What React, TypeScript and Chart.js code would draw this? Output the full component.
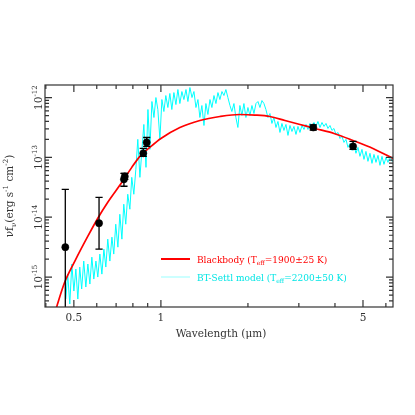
import React, { useEffect, useRef } from "react";
import { Chart, registerables } from "chart.js";

Chart.register(...registerables);

// ---------- data (wavelength in micron, nu*f_nu in erg s^-1 cm^-2) ----------
const photWavelength = [0.467, 0.611, 0.745, 0.75, 0.869, 0.893, 3.365, 4.62];
const photFlux = [3.16e-15, 7.94e-15, 4.3e-14, 4.8e-14, 1.17e-13, 1.78e-13, 3.16e-13, 1.53e-13];
const photLow = [1e-16, 2.93e-15, 3.29e-14, 4.3e-14, 1.04e-13, 1.53e-13, 2.85e-13, 1.36e-13];
const photHigh = [2.93e-14, 2.15e-14, 5.41e-14, 5.41e-14, 1.41e-13, 2.15e-13, 3.5e-13, 1.85e-13];

const blackbodyWavelength = [0.42, 0.437, 0.465, 0.504, 0.559, 0.605, 0.655, 0.733, 0.793, 0.846, 0.916, 1.0, 1.163, 1.364, 1.6, 1.876, 2.115, 2.383, 2.686, 3.027, 3.411, 3.968, 4.617, 5.414, 6.35];
const blackbodyFlux = [1.7e-16, 3.29e-16, 8.25e-16, 1.85e-15, 4.82e-15, 9.62e-15, 1.78e-14, 3.83e-14, 6.81e-14, 1.04e-13, 1.47e-13, 2.07e-13, 3.16e-13, 4.14e-13, 4.82e-13, 5.21e-13, 5.1e-13, 4.82e-13, 4.14e-13, 3.55e-13, 3.04e-13, 2.51e-13, 1.92e-13, 1.41e-13, 9.62e-14];

const btSettlSpectrum: [number, number][] = [
  [0.469, 4.3e-16], [0.476, 1.12e-15], [0.484, 3.55e-16], [0.492, 1.65e-15], [0.5, 5.84e-16],
  [0.508, 1.36e-15], [0.516, 4.3e-16], [0.524, 1.47e-15], [0.532, 6.31e-16], [0.541, 1.85e-15],
  [0.55, 6.81e-16], [0.559, 1.65e-15], [0.568, 7.64e-16], [0.577, 2.15e-15], [0.586, 9.26e-16],
  [0.596, 1.85e-15], [0.605, 1.0e-15], [0.615, 2.42e-15], [0.625, 1.12e-15], [0.635, 2.93e-15],
  [0.645, 1.47e-15], [0.655, 4.3e-15], [0.666, 1.85e-15], [0.677, 4.64e-15], [0.687, 2.42e-15],
  [0.698, 7.64e-15], [0.71, 3.16e-15], [0.721, 1.12e-14], [0.733, 4.3e-15], [0.744, 1.65e-14],
  [0.756, 7.64e-15], [0.768, 2.42e-14], [0.781, 1.36e-14], [0.793, 4.64e-14], [0.806, 2.42e-14],
  [0.819, 6.31e-14], [0.832, 2.0e-13], [0.846, 4.64e-14], [0.86, 1.36e-13], [0.873, 3.55e-13],
  [0.888, 6.81e-14], [0.902, 6.31e-13], [0.916, 1.36e-13], [0.931, 8.58e-13], [0.946, 4.64e-13],
  [0.961, 1.0e-12], [0.976, 6.31e-13], [0.992, 2.0e-13], [1.008, 9.26e-13], [1.024, 5.84e-13],
  [1.04, 1.08e-12], [1.057, 6.81e-13], [1.074, 1.17e-12], [1.091, 6.31e-13], [1.109, 1.21e-12],
  [1.127, 7.64e-13], [1.145, 1.36e-12], [1.163, 7.94e-13], [1.182, 1.26e-12], [1.201, 9.26e-13],
  [1.221, 1.36e-12], [1.24, 8.58e-13], [1.26, 1.47e-12], [1.281, 1.0e-12], [1.301, 1.26e-12],
  [1.322, 6.81e-13], [1.343, 9.26e-13], [1.364, 4.64e-13], [1.386, 7.36e-13], [1.409, 3.41e-13],
  [1.431, 7.94e-13], [1.454, 5.21e-13], [1.478, 9.26e-13], [1.501, 6.81e-13], [1.526, 1.08e-12],
  [1.55, 7.94e-13], [1.575, 1.21e-12], [1.6, 9.26e-13], [1.626, 1.26e-12], [1.652, 1.08e-12],
  [1.678, 1.36e-12], [1.705, 1.0e-12], [1.733, 7.36e-13], [1.76, 5.84e-13], [1.789, 7.94e-13],
  [1.817, 4.64e-13], [1.846, 3.16e-13], [1.876, 7.36e-13], [1.906, 5.01e-13], [1.937, 7.94e-13],
  [1.968, 4.64e-13], [2.0, 6.81e-13], [2.032, 5.01e-13], [2.065, 7.36e-13], [2.098, 5.41e-13],
  [2.132, 7.94e-13], [2.166, 8.58e-13], [2.201, 6.81e-13], [2.236, 8.91e-13], [2.272, 7.94e-13],
  [2.308, 6.31e-13], [2.345, 4.64e-13], [2.383, 5.41e-13], [2.421, 3.69e-13], [2.46, 4.64e-13],
  [2.5, 3.16e-13], [2.54, 3.98e-13], [2.581, 2.61e-13], [2.622, 3.69e-13], [2.664, 2.82e-13],
  [2.707, 3.55e-13], [2.751, 2.33e-13], [2.795, 3.41e-13], [2.84, 2.71e-13], [2.885, 3.29e-13],
  [2.932, 2.42e-13], [2.979, 3.29e-13], [3.027, 2.61e-13], [3.075, 3.41e-13], [3.125, 2.93e-13],
  [3.175, 3.55e-13], [3.226, 2.93e-13], [3.278, 3.69e-13], [3.33, 3.04e-13], [3.384, 3.83e-13],
  [3.438, 3.29e-13], [3.493, 3.98e-13], [3.55, 3.16e-13], [3.607, 3.83e-13], [3.665, 3.29e-13],
  [3.724, 3.69e-13], [3.783, 3.04e-13], [3.844, 3.41e-13], [3.905, 2.82e-13], [3.968, 3.04e-13],
  [4.032, 2.42e-13], [4.097, 2.61e-13], [4.162, 2.07e-13], [4.229, 2.24e-13], [4.297, 1.78e-13],
  [4.366, 2.0e-13], [4.436, 1.47e-13], [4.508, 1.71e-13], [4.58, 1.31e-13], [4.654, 1.585e-13],
  [4.728, 1.17e-13], [4.804, 1.47e-13], [4.881, 1.04e-13], [4.96, 1.36e-13], [5.039, 9.26e-14],
  [5.12, 1.26e-13], [5.202, 8.58e-14], [5.286, 1.17e-13], [5.371, 7.94e-14], [5.457, 1.12e-13],
  [5.545, 8.25e-14], [5.634, 1.08e-13], [5.724, 7.36e-14], [5.816, 1.04e-13], [5.91, 7.64e-14],
  [6.005, 1.0e-13], [6.101, 8.25e-14], [6.199, 1.04e-13], [6.299, 8.58e-14], [6.4, 9.26e-14],
];

const xMajorTicks = [0.5, 1, 5];
const xMajorLabels = ["0.5", "1", "5"];
const xMinorTicks = [0.4, 0.6, 0.7, 0.8, 0.9, 2, 3, 4, 6];
const yMajorExponents = [-12, -13, -14, -15];

const X_MIN = 0.3973;
const X_MAX = 6.35;
const Y_MIN = 3.16e-16;
const Y_MAX = 1.62e-12;

const FONT = '"DejaVu Serif", serif';

type Seg = { t: string; s?: "sup" | "sub" };

function drawRich(
  ctx: CanvasRenderingContext2D,
  segs: Seg[],
  x: number,
  y: number,
  size: number,
  color: string,
  align: "left" | "center",
  rotate: boolean
) {
  ctx.save();
  ctx.translate(x, y);
  if (rotate) ctx.rotate(-Math.PI / 2);
  ctx.fillStyle = color;
  ctx.textBaseline = "alphabetic";
  ctx.textAlign = "left";
  const widths = segs.map((sg) => {
    ctx.font = `${sg.s ? size * 0.68 : size}px ${FONT}`;
    return ctx.measureText(sg.t).width;
  });
  const total = widths.reduce((a, b) => a + b, 0);
  let cx = align === "center" ? -total / 2 : 0;
  segs.forEach((sg, i) => {
    ctx.font = `${sg.s ? size * 0.68 : size}px ${FONT}`;
    const dy = sg.s === "sup" ? -size * 0.45 : sg.s === "sub" ? size * 0.28 : 0;
    ctx.fillText(sg.t, cx, dy);
    cx += widths[i];
  });
  ctx.restore();
}

const errorBarPlugin = {
  id: "errorBars",
  afterDatasetsDraw(chart: any) {
    const { ctx, chartArea, scales } = chart;
    const { top, bottom } = chartArea;
    ctx.save();
    ctx.strokeStyle = "#000";
    ctx.lineWidth = 1.3;
    photWavelength.forEach((wl, i) => {
      const px = scales.x.getPixelForValue(wl);
      const pLow = scales.y.getPixelForValue(photLow[i]);
      const pHigh = scales.y.getPixelForValue(photHigh[i]);
      const y1 = Math.max(top, Math.min(bottom, pHigh));
      const y2 = Math.max(top, Math.min(bottom, pLow));
      ctx.beginPath();
      ctx.moveTo(px, y1);
      ctx.lineTo(px, y2);
      const cap = 3.6;
      if (pHigh >= top && pHigh <= bottom) {
        ctx.moveTo(px - cap, pHigh);
        ctx.lineTo(px + cap, pHigh);
      }
      if (pLow >= top && pLow <= bottom) {
        ctx.moveTo(px - cap, pLow);
        ctx.lineTo(px + cap, pLow);
      }
      ctx.stroke();
    });
    ctx.restore();
  },
};

const framePlugin = {
  id: "pgFrame",
  afterDraw(chart: any) {
    const { ctx, chartArea, scales } = chart;
    const { left, right, top, bottom } = chartArea;
    const xs = scales.x;
    const ys = scales.y;
    ctx.save();
    ctx.strokeStyle = "#333";
    ctx.lineWidth = 1.2;
    ctx.strokeRect(left, top, right - left, bottom - top);

    const MAJ = 7;
    const MIN = 4;
    ctx.beginPath();
    const xTick = (v: number, len: number) => {
      const px = xs.getPixelForValue(v);
      ctx.moveTo(px, bottom);
      ctx.lineTo(px, bottom - len);
      ctx.moveTo(px, top);
      ctx.lineTo(px, top + len);
    };
    xMajorTicks.forEach((v) => xTick(v, MAJ));
    xMinorTicks.forEach((v) => xTick(v, MIN));
    const yTick = (v: number, len: number) => {
      const py = ys.getPixelForValue(v);
      if (py < top - 0.5 || py > bottom + 0.5) return;
      ctx.moveTo(left, py);
      ctx.lineTo(left + len, py);
      ctx.moveTo(right, py);
      ctx.lineTo(right - len, py);
    };
    yMajorExponents.forEach((e) => yTick(Math.pow(10, e), MAJ));
    for (let e = -16; e <= -12; e++) {
      for (let m = 2; m <= 9; m++) yTick(m * Math.pow(10, e), MIN);
    }
    ctx.stroke();

    // x tick labels
    ctx.fillStyle = "#333";
    ctx.font = `10.5px ${FONT}`;
    ctx.textAlign = "center";
    ctx.textBaseline = "alphabetic";
    xMajorTicks.forEach((v, i) => {
      ctx.fillText(xMajorLabels[i], xs.getPixelForValue(v), 321);
    });

    // x title
    drawRich(ctx, [{ t: "Wavelength (μm)" }], 221, 337, 10.5, "#333", "center", false);

    // y tick labels (rotated)
    yMajorExponents.forEach((e) => {
      const py = ys.getPixelForValue(Math.pow(10, e));
      drawRich(ctx, [{ t: "10" }, { t: String(e), s: "sup" }], 42, py, 10.5, "#333", "center", true);
    });

    // y title
    drawRich(
      ctx,
      [{ t: "νf" }, { t: "ν", s: "sub" }, { t: "(erg s" }, { t: "-1", s: "sup" }, { t: " cm" }, { t: "-2", s: "sup" }, { t: ")" }],
      13,
      (top + bottom) / 2,
      10.5,
      "#333",
      "center",
      true
    );

    // legend
    ctx.beginPath();
    ctx.strokeStyle = "#ff0000";
    ctx.lineWidth = 2;
    ctx.moveTo(161, 259);
    ctx.lineTo(190, 259);
    ctx.stroke();
    ctx.beginPath();
    ctx.strokeStyle = "rgba(0,255,255,0.5)";
    ctx.lineWidth = 0.8;
    ctx.moveTo(161, 277);
    ctx.lineTo(190, 277);
    ctx.stroke();
    drawRich(ctx, [{ t: "Blackbody (T" }, { t: "eff", s: "sub" }, { t: "=1900±25 K)" }], 197, 262.5, 9, "#ff0000", "left", false);
    drawRich(ctx, [{ t: "BT-Settl model (T" }, { t: "eff", s: "sub" }, { t: "=2200±50 K)" }], 197, 280.5, 9, "#00e5e5", "left", false);

    ctx.restore();
  },
};

export default function App() {
  const canvasRef = useRef<HTMLCanvasElement | null>(null);

  useEffect(() => {
    const canvas = canvasRef.current;
    if (!canvas) return;
    const chart = new Chart(canvas, {
      type: "scatter",
      data: {
        datasets: [
          {
            label: "Photometry",
            data: photWavelength.map((x, i) => ({ x, y: photFlux[i] })),
            pointRadius: 3.6,
            pointBackgroundColor: "#000",
            pointBorderColor: "#000",
            pointBorderWidth: 0.5,
            showLine: false,
          } as any,
          {
            label: "Blackbody",
            type: "line",
            data: blackbodyWavelength.map((x, i) => ({ x, y: blackbodyFlux[i] })),
            borderColor: "#ff0000",
            borderWidth: 1.7,
            pointRadius: 0,
            cubicInterpolationMode: "monotone",
            fill: false,
          } as any,
          {
            label: "BT-Settl",
            type: "line",
            data: btSettlSpectrum.map(([x, y]) => ({ x, y })),
            borderColor: "#00ffff",
            borderWidth: 1,
            pointRadius: 0,
            tension: 0,
            fill: false,
          } as any,
        ],
      },
      options: {
        animation: false,
        responsive: false,
        devicePixelRatio: 1,
        events: [],
        layout: { padding: { left: 45, top: 85, right: 22, bottom: 108 } },
        scales: {
          x: { type: "logarithmic", min: X_MIN, max: X_MAX, display: false },
          y: { type: "logarithmic", min: Y_MIN, max: Y_MAX, display: false },
        },
        plugins: { legend: { display: false }, tooltip: { enabled: false } },
      } as any,
      plugins: [errorBarPlugin, framePlugin],
    });
    return () => chart.destroy();
  }, []);

  return (
    <div style={{ position: "fixed", left: 0, top: 0, width: 415, height: 415, background: "#fff" }}>
      <canvas ref={canvasRef} width={415} height={415} style={{ width: 415, height: 415, display: "block" }} />
    </div>
  );
}
